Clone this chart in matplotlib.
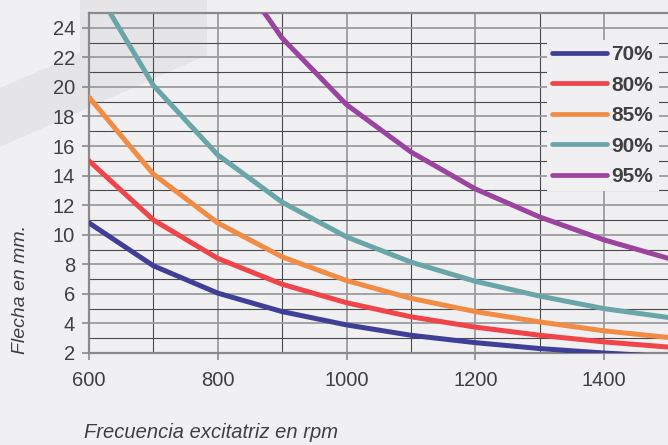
import matplotlib
matplotlib.use("Agg")
import matplotlib.pyplot as plt
from matplotlib.patches import Polygon

# ------------------------------------------------------------
# Data
rpm = [600, 700, 800, 900, 1000, 1100, 1200, 1300, 1400, 1500]
flecha_70 = [10.8, 7.9, 6.05, 4.8, 3.9, 3.2, 2.7, 2.3, 2.0, 1.75]
flecha_80 = [15.0, 11.0, 8.4, 6.65, 5.4, 4.45, 3.75, 3.2, 2.75, 2.4]
flecha_85 = [19.3, 14.1, 10.8, 8.5, 6.9, 5.7, 4.8, 4.1, 3.5, 3.05]
flecha_90 = [27.4, 20.1, 15.4, 12.2, 9.85, 8.15, 6.85, 5.85, 5.0, 4.4]
flecha_95 = [52.0, 38.5, 29.5, 23.3, 18.8, 15.6, 13.1, 11.2, 9.65, 8.4]

series_labels = ["70%", "80%", "85%", "90%", "95%"]
series_colors = ["#3f3f98", "#f0444a", "#f28c45", "#6aa6a9", "#9a449f"]

x_ticks = [600, 800, 1000, 1200, 1400]
y_ticks = list(range(2, 25, 2))

# ------------------------------------------------------------
bg = "#f0f0f2"
text_col = "#404040"
plt.rcParams["font.family"] = ["Liberation Sans", "DejaVu Sans"]

W, H = 668, 445
fig = plt.figure(figsize=(W / 100, H / 100), dpi=100, facecolor=bg)

# faint watermark shape in the background (pixel coords -> figure fraction)
shape_px = [(80, 0), (207, 0), (207, 55), (0, 147), (0, 88), (80, 53)]
fig.patches.append(Polygon([(x / W, 1 - y / H) for x, y in shape_px], closed=True,
                           transform=fig.transFigure, facecolor="#e5e5e7",
                           edgecolor="none", zorder=-5))

ax = fig.add_axes([89 / W, (H - 353) / H, (668.5 - 89) / W, (353 - 13) / H])
ax.patch.set_alpha(0)

for vals, lab, col in zip([flecha_70, flecha_80, flecha_85, flecha_90, flecha_95],
                          series_labels, series_colors):
    ax.plot(rpm, vals, color=col, lw=3.6, label=lab, zorder=3,
            solid_capstyle="round")

ax.set_xlim(600, 1500)
ax.set_ylim(2, 25)
ax.set_xticks(x_ticks)
ax.set_xticks(range(700, 1500, 200), minor=True)
ax.set_yticks(y_ticks)
ax.set_yticks(range(3, 25, 2), minor=True)

ax.grid(True, which="major", color="#9c9c9c", lw=1.3, zorder=1)
ax.grid(True, which="minor", color="#4a4a4a", lw=0.8, zorder=1)
ax.set_axisbelow(True)

ax.tick_params(which="major", length=5, width=1.2, color="#8a8a8a",
               labelsize=14.5, labelcolor=text_col)
ax.tick_params(axis="x", which="major", pad=8)
ax.tick_params(axis="y", which="major", pad=5)
ax.tick_params(which="minor", length=0)

for side in ["left", "bottom", "top"]:
    ax.spines[side].set_color("#8a8a8a")
    ax.spines[side].set_linewidth(1.6)
ax.spines["right"].set_visible(False)

leg = ax.legend(loc="upper left", bbox_to_anchor=(547 / W, 1 - 40 / H),
                bbox_transform=fig.transFigure, frameon=True, fancybox=False,
                facecolor=bg, edgecolor="none", framealpha=1,
                prop={"weight": "bold", "size": 15}, handlelength=2.65,
                handletextpad=0.2, labelspacing=0.55, borderpad=0.25,
                borderaxespad=0)
for t in leg.get_texts():
    t.set_color(text_col)
for h in leg.get_lines():
    h.set_linewidth(3.4)

fig.text(21 / W, 1 - 289 / H, "Flecha en mm.", rotation=90, ha="center",
         va="center", style="italic", fontsize=14, color=text_col)
fig.text(84 / W, 1 - 432 / H, "Frecuencia excitatriz en rpm", ha="left",
         va="center", style="italic", fontsize=14.5, color=text_col)

fig.savefig("out.png", dpi=100, facecolor=bg)
